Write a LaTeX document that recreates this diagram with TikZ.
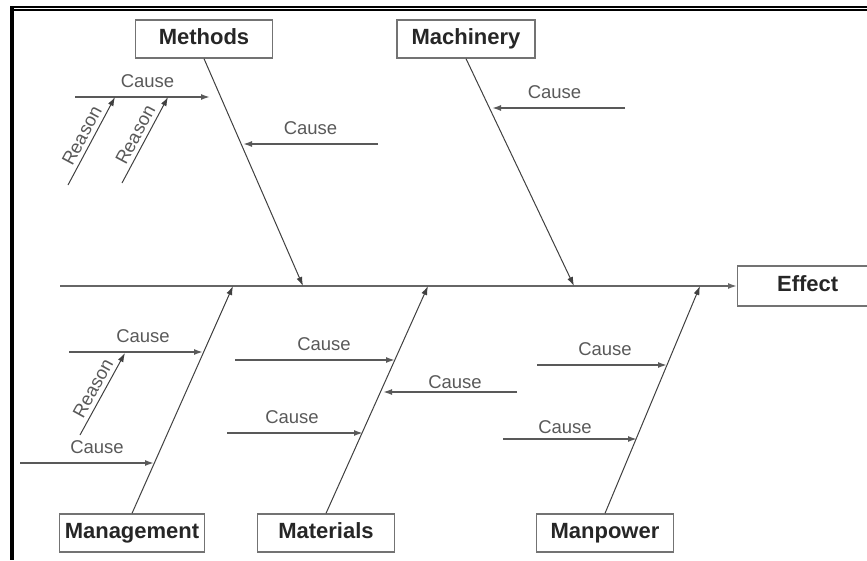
\documentclass[tikz,border=0pt]{standalone}
\usepackage{fontspec}
\setmainfont{Liberation Sans}
\usetikzlibrary{arrows.meta}
\begin{document}
\begin{tikzpicture}[x=1pt,y=-1pt]
\tikzset{category/.style = {shape=rectangle,draw=black!55,line width=1.3pt,inner sep=0pt,minimum height=38pt,text height=15pt,text depth=4pt,font=\fontsize{22}{26}\selectfont\bfseries,text=black!85}}
\tikzset{bone/.style = {-{Latex[length=9pt,width=6pt]},color=black!75,line width=1pt}}
\tikzset{cause/.style = {-{Latex[length=9pt,width=6pt]},color=black!65,line width=1.6pt}}
\tikzset{causetext/.style = {font=\fontsize{18.5}{22}\selectfont,text=black!65,inner sep=1pt}}
\useasboundingbox (0,0) rectangle (867,560);
% frame
\draw[line width=2pt] (10,6.5) -- (867,6.5);
\draw[line width=2pt] (12,10) -- (867,10);
\draw[line width=4pt] (12,8) -- (12,560);
% categories
\node[category,minimum width=137pt] (methods) at (204,39) {Methods};
\node[category,minimum width=138pt] (machinery) at (466,39) {Machinery};
\node[category,minimum width=145pt] (management) at (132,533) {Management};
\node[category,minimum width=137pt] (materials) at (326,533) {Materials};
\node[category,minimum width=137pt] (manpower) at (605,533) {Manpower};
\node[category,minimum width=140pt,minimum height=40pt,anchor=west] (effect) at (737,286) {Effect};
% spine
\coordinate (tail) at (60,286);
\coordinate (mh) at (303,286);
\coordinate (mc) at (574,286);
\coordinate (mg) at (233,286);
\coordinate (mt) at (428,286);
\coordinate (mp) at (700,286);
\draw[cause,color=black!60] (tail) -- (effect.west);
\draw[bone] (methods.south) -- (mh);
\draw[bone] (machinery.south) -- (mc);
\draw[bone] (management.north) -- (mg);
\draw[bone] (materials.north) -- (mt);
\draw[bone] (manpower.north) -- (mp);
% causes
\coordinate (c1) at (75,97);   \coordinate (t1) at (210,97);
\coordinate (c2) at (378,144); \coordinate (t2) at (243,144);
\coordinate (c3) at (625,108); \coordinate (t3) at (492,108);
\coordinate (c4) at (69,352);  \coordinate (t4) at (203,352);
\coordinate (c5) at (20,463);  \coordinate (t5) at (154,463);
\coordinate (c6) at (235,360); \coordinate (t6) at (395,360);
\coordinate (c7) at (517,392); \coordinate (t7) at (383,392);
\coordinate (c8) at (227,433); \coordinate (t8) at (363,433);
\coordinate (c9) at (537,365); \coordinate (t9) at (667,365);
\coordinate (c10) at (503,439); \coordinate (t10) at (637,439);
\path[cause]
(c1) edge node[causetext,above=8pt,xshift=5pt] {Cause} (t1)
(c2) edge node[causetext,above=8pt] {Cause} (t2)
(c3) edge node[causetext,above=8pt,xshift=-4pt] {Cause} (t3)
(c4) edge node[causetext,above=8pt,xshift=7pt] {Cause} (t4)
(c5) edge node[causetext,above=8pt,xshift=10pt] {Cause} (t5)
(c6) edge node[causetext,above=8pt,xshift=9pt] {Cause} (t6)
(c7) edge node[causetext,above=2pt,xshift=5pt] {Cause} (t7)
(c8) edge node[causetext,above=8pt,xshift=-3pt] {Cause} (t8)
(c9) edge node[causetext,above=8pt,xshift=3pt] {Cause} (t9)
(c10) edge node[causetext,above=4pt,xshift=-5pt] {Cause} (t10);
% reasons
\coordinate (r1) at (68,185);  \coordinate (s1) at (115,97);
\coordinate (r2) at (122,183); \coordinate (s2) at (168,97);
\coordinate (r3) at (80,435);  \coordinate (s3) at (125,353);
\path[bone]
(r1) edge node[causetext,sloped,above=3pt] {Reason} (s1)
(r2) edge node[causetext,sloped,above=3pt] {Reason} (s2)
(r3) edge node[causetext,sloped,above=3pt] {Reason} (s3);
\end{tikzpicture}
\end{document}
